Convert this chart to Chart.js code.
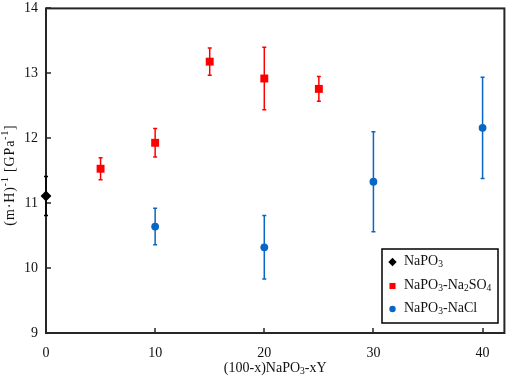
<!DOCTYPE html>
<html>
<head>
<meta charset="utf-8">
<script src="https://cdn.jsdelivr.net/npm/chart.js@4.4.0/dist/chart.umd.min.js"></script>
<style>
  html, body { margin: 0; padding: 0; background: #fff; }
</style>
</head>
<body>
<canvas id="chart" width="510" height="379"></canvas>
<script>
// data
const xTicks = [0, 10, 20, 30, 40];
const yTicks = [9, 10, 11, 12, 13, 14];

const baseX = [0];
const baseY = [11.11];
const baseErr = [0.3];

const sulfX = [5, 10, 15, 20, 25];
const sulfY = [11.53, 11.93, 13.18, 12.92, 12.76];
const sulfErr = [0.17, 0.22, 0.21, 0.48, 0.19];

const chlorX = [10, 20, 30, 40];
const chlorY = [10.64, 10.32, 11.33, 12.16];
const chlorErr = [0.28, 0.49, 0.77, 0.78];

const FONT = "'Liberation Serif', 'DejaVu Serif', serif";
const AXIS = "#262626";
const RED = "#ff0000";
const BLUE = "#0866c4";

function pts(xs, ys) {
  return xs.map((x, i) => ({ x: x, y: ys[i] }));
}

// text with sub/superscripts: parts = [[text, kind]]
function richWidth(ctx, parts, size) {
  let w = 0;
  parts.forEach(([t, k]) => {
    ctx.font = (k ? size * 0.68 : size) + "px " + FONT;
    w += ctx.measureText(t).width;
  });
  return w;
}
function drawRich(ctx, parts, x, y, size, align) {
  const w = richWidth(ctx, parts, size);
  let cx = align === "center" ? x - w / 2 : x;
  ctx.textBaseline = "middle";
  ctx.textAlign = "left";
  parts.forEach(([t, k]) => {
    ctx.font = (k ? size * 0.68 : size) + "px " + FONT;
    let dy = 0;
    if (k === "sub") dy = size * 0.25;
    if (k === "sup") dy = -size * 0.3;
    ctx.fillText(t, cx, y + dy);
    cx += ctx.measureText(t).width;
  });
}

const errorBars = {
  id: "errorBars",
  beforeDatasetsDraw(chart) {
    const { ctx, chartArea: a, scales } = chart;
    const xs = scales.x, ys = scales.y;
    ctx.save();
    // frame
    ctx.strokeStyle = AXIS;
    ctx.lineWidth = 2;
    ctx.strokeRect(a.left, a.top, a.right - a.left, a.bottom - a.top);
    // inward ticks
    ctx.lineWidth = 1.5;
    ctx.beginPath();
    xTicks.forEach((v) => {
      const px = Math.round(xs.getPixelForValue(v));
      ctx.moveTo(px, a.bottom);
      ctx.lineTo(px, a.bottom - 5);
    });
    yTicks.forEach((v) => {
      const py = Math.round(ys.getPixelForValue(v));
      ctx.moveTo(a.left, py);
      ctx.lineTo(a.left + 5, py);
    });
    ctx.stroke();
    // error bars
    const sets = [
      [baseX, baseY, baseErr, "#000"],
      [sulfX, sulfY, sulfErr, RED],
      [chlorX, chlorY, chlorErr, BLUE],
    ];
    ctx.lineWidth = 1.5;
    sets.forEach(([xv, yv, ev, col]) => {
      ctx.strokeStyle = col;
      ctx.beginPath();
      xv.forEach((x, i) => {
        const px = xs.getPixelForValue(x);
        const hi = ys.getPixelForValue(yv[i] + ev[i]);
        const lo = ys.getPixelForValue(yv[i] - ev[i]);
        ctx.moveTo(px, hi);
        ctx.lineTo(px, lo);
        ctx.moveTo(px - 2, hi);
        ctx.lineTo(px + 2, hi);
        ctx.moveTo(px - 2, lo);
        ctx.lineTo(px + 2, lo);
      });
      ctx.stroke();
    });
    ctx.restore();
  },
  afterDraw(chart) {
    const { ctx, chartArea: a } = chart;
    ctx.save();
    ctx.fillStyle = "#111";
    // axis titles
    drawRich(ctx, [["(100-x)NaPO", null], ["3", "sub"], ["-xY", null]],
      (a.left + a.right) / 2, 368, 14, "center");
    ctx.save();
    ctx.translate(10, 175);
    ctx.rotate(-Math.PI / 2);
    ctx.letterSpacing = "0.9px";
    drawRich(ctx, [["(m·H)", null], ["-1", "sup"], [" [GPa", null], ["-1", "sup"], ["]", null]],
      0, 0, 14, "center");
    ctx.restore();
    // legend
    ctx.fillStyle = "#fff";
    ctx.fillRect(382, 249, 116, 74);
    ctx.strokeStyle = "#000";
    ctx.lineWidth = 1.5;
    ctx.strokeRect(382, 249, 116, 74);
    const rows = [
      [262, "rectRot", "#000", 4.2, [["NaPO", null], ["3", "sub"]]],
      [286, "rect", RED, 4.3, [["NaPO", null], ["3", "sub"], ["-Na", null], ["2", "sub"], ["SO", null], ["4", "sub"]]],
      [309, "circle", BLUE, 3.2, [["NaPO", null], ["3", "sub"], ["-NaCl", null]]],
    ];
    rows.forEach(([y, style, col, r, parts]) => {
      ctx.fillStyle = col;
      Chart.helpers.drawPoint(ctx, { pointStyle: style, radius: r, borderWidth: 0 }, 392.5, y);
      ctx.fillStyle = "#111";
      drawRich(ctx, parts, 404, y - 1, 14, "left");
    });
    ctx.restore();
  },
};

new Chart(document.getElementById("chart"), {
  type: "scatter",
  data: {
    datasets: [
      {
        label: "NaPO3",
        data: pts(baseX, baseY),
        pointStyle: "rectRot",
        pointRadius: 5.4,
        backgroundColor: "#000",
        borderColor: "#000",
        borderWidth: 0,
        clip: false,
      },
      {
        label: "NaPO3-Na2SO4",
        data: pts(sulfX, sulfY),
        pointStyle: "rect",
        pointRadius: 5.6,
        backgroundColor: RED,
        borderColor: RED,
        borderWidth: 0,
        clip: false,
      },
      {
        label: "NaPO3-NaCl",
        data: pts(chlorX, chlorY),
        pointStyle: "circle",
        pointRadius: 3.9,
        backgroundColor: BLUE,
        borderColor: BLUE,
        borderWidth: 0,
        clip: false,
      },
    ],
  },
  options: {
    responsive: false,
    devicePixelRatio: 1,
    animation: false,
    layout: { padding: { top: 7, right: 4, left: 0, bottom: 0 } },
    plugins: {
      legend: { display: false },
      tooltip: { enabled: false },
    },
    scales: {
      x: {
        type: "linear",
        min: 0,
        max: 42,
        afterFit: (s) => { s.height = 46; },
        afterBuildTicks: (s) => { s.ticks = xTicks.map((v) => ({ value: v })); },
        grid: { display: false },
        border: { display: false },
        ticks: {
          padding: 4,
          color: "#111",
          font: { family: FONT, size: 14 },
        },
      },
      y: {
        type: "linear",
        min: 9,
        max: 14,
        afterFit: (s) => { s.width = 46; },
        afterBuildTicks: (s) => { s.ticks = yTicks.map((v) => ({ value: v })); },
        grid: { display: false },
        border: { display: false },
        ticks: {
          padding: 0,
          color: "#111",
          font: { family: FONT, size: 14 },
        },
      },
    },
  },
  plugins: [errorBars],
});
</script>
</body>
</html>
